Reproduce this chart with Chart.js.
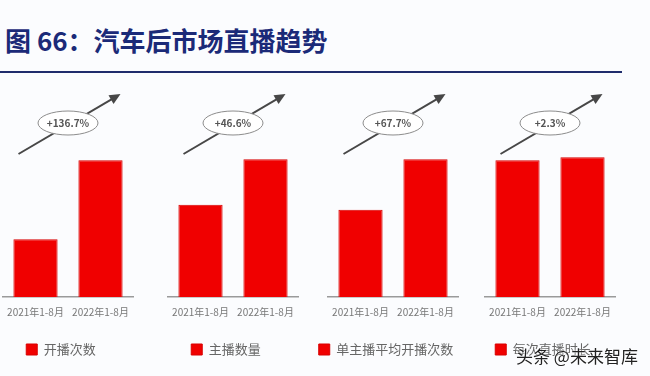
<!DOCTYPE html>
<html>
<head>
<meta charset="utf-8">
<script src="https://cdn.jsdelivr.net/npm/chart.js@4.4.0/dist/chart.umd.min.js"></script>
<style>
  body { margin: 0; width: 650px; height: 376px; background: #fbfcfe; position: relative; overflow: hidden;
         font-family: "Noto Sans CJK SC", sans-serif; }
  #title { position: absolute; left: 5px; top: 25px; font-size: 26px; line-height: 30px; font-weight: bold; color: #1b2a78; }
  #rule { position: absolute; left: 0; top: 71px; width: 622px; height: 2px; background: #1f2c6c; }
  .panel { position: absolute; top: 80px; width: 160px; height: 296px; }
  #wm { position: absolute; left: 516px; top: 343px; font-size: 17px; color: #222; white-space: nowrap;
        text-shadow: 0 0 2px #fff, 0 0 2px #fff; }
</style>
</head>
<body>
<div id="title">图 66：汽车后市场直播趋势</div>
<div id="rule"></div>
<div class="panel" style="left:-19px"><canvas id="c0"></canvas></div>
<div class="panel" style="left:146px"><canvas id="c1"></canvas></div>
<div class="panel" style="left:306px"><canvas id="c2"></canvas></div>
<div class="panel" style="left:463px"><canvas id="c3"></canvas></div>
<div id="wm">头条 @未来智库</div>
<script>
// values are bar heights (no axis in the original)
const periods = ['2021年1-8月', '2022年1-8月'];
const metrics = ['开播次数', '主播数量', '单主播平均开播次数', '每次直播时长'];
const liveCount = [57, 135];
const anchorCount = [91, 136];
const perAnchor = [86, 136];
const perSession = [135, 138];
const growth = ['+136.7%', '+46.6%', '+67.7%', '+2.3%'];

const series = [liveCount, anchorCount, perAnchor, perSession];
const font = '"Noto Sans CJK SC", sans-serif';

// oval with growth rate + rising arrow above each pair of bars
const growthBadge = {
    id: 'growthBadge',
    afterDatasetsDraw(chart, args, opts) {
        const ctx = chart.ctx;
        const top = chart.chartArea.top;
        const bars = chart.getDatasetMeta(0).data;
        const x0 = bars[0].x, x1 = bars[1].x;
        const sx = x0 - 17, sy = top + 9, ex = x1 + 20, ey = top - 51;
        const ang = Math.atan2(ey - sy, ex - sx);
        ctx.save();
        ctx.strokeStyle = '#474747';
        ctx.fillStyle = '#474747';
        ctx.lineWidth = 2;
        ctx.beginPath();
        ctx.moveTo(sx, sy);
        ctx.lineTo(ex - 8 * Math.cos(ang), ey - 8 * Math.sin(ang));
        ctx.stroke();
        ctx.beginPath();
        ctx.moveTo(ex, ey);
        ctx.lineTo(ex - 11 * Math.cos(ang) + 5 * Math.sin(ang), ey - 11 * Math.sin(ang) - 5 * Math.cos(ang));
        ctx.lineTo(ex - 11 * Math.cos(ang) - 5 * Math.sin(ang), ey - 11 * Math.sin(ang) + 5 * Math.cos(ang));
        ctx.closePath();
        ctx.fill();

        const cx = (x0 + x1) / 2, cy = top - 22;
        ctx.beginPath();
        ctx.ellipse(cx, cy, 30, 12, 0, 0, Math.PI * 2);
        ctx.fillStyle = '#ffffff';
        ctx.fill();
        ctx.strokeStyle = '#8c8c8c';
        ctx.lineWidth = 1;
        ctx.stroke();
        ctx.fillStyle = '#555';
        ctx.font = 'bold 10px ' + font;
        ctx.textAlign = 'center';
        ctx.textBaseline = 'middle';
        ctx.fillText(opts.text, cx, cy);
        ctx.restore();
    }
};

series.forEach(function (values, i) {
    new Chart(document.getElementById('c' + i), {
        type: 'bar',
        data: {
            labels: periods,
            datasets: [{
                label: metrics[i],
                data: values,
                backgroundColor: '#f00000',
                borderColor: '#d80000',
                borderWidth: 1,
                barPercentage: 0.68,
                categoryPercentage: 1
            }]
        },
        plugins: [growthBadge],
        options: {
            responsive: true,
            maintainAspectRatio: false,
            animation: false,
            layout: { padding: { top: 65, left: 8, right: 8, bottom: 10 } },
            plugins: {
                tooltip: { enabled: false },
                growthBadge: { text: growth[i] },
                legend: {
                    position: 'bottom',
                    labels: {
                        boxWidth: 11,
                        boxHeight: 11,
                        padding: 16,
                        color: '#666',
                        font: { family: font, size: 13 }
                    }
                }
            },
            scales: {
                x: {
                    grid: { display: false, drawTicks: false },
                    border: { display: true, color: '#9a9a9a', width: 1.5 },
                    ticks: { color: '#777', padding: 9, font: { family: font, size: 10 } }
                },
                // hidden spacer axis: nudges the plot right of the centred legend
                y: {
                    min: 0,
                    max: 150,
                    grid: { display: false, drawTicks: false },
                    border: { display: false },
                    ticks: { display: false },
                    afterFit: function (scale) { scale.width = 14; }
                }
            }
        }
    });
});
</script>
</body>
</html>
